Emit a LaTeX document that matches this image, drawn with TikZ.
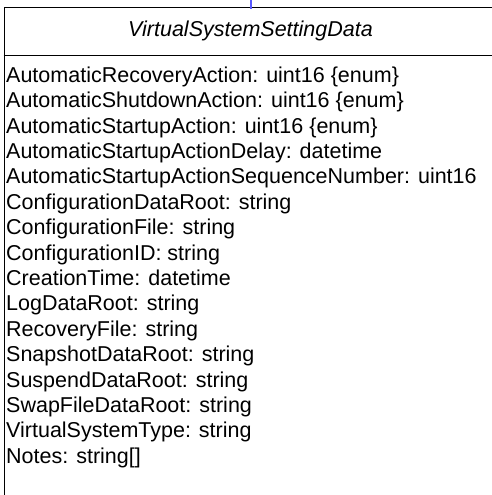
\documentclass[tikz,border=0pt]{standalone}
\usepackage{fontspec}
\setmainfont{Liberation Sans}
\usetikzlibrary{positioning}
\definecolor{linkblue}{RGB}{90,90,255}

\begin{document}
\begin{tikzpicture}[
        x=1pt, y=-1pt,
        every node/.style={font=\fontsize{21.5}{25.4}\selectfont},
        classbox/.style={draw, line width=1pt, rectangle, anchor=north west, minimum width=493pt, minimum height=520pt, inner sep=0pt},
        classname/.style={anchor=north, minimum height=48pt, inner sep=0pt, font=\itshape\fontsize{21.5}{25.4}\selectfont},
        attrlist/.style={align=left, anchor=north west, inner sep=0pt},
        divider/.style={draw, line width=1pt},
        assoc/.style={draw=linkblue, line width=2pt}
    ]
        \clip (0,0) rectangle (492,495);

        % Class
        \node[classbox] (vssd) at (3.5,7) {};
        \node[classname] (vssdname) at (vssd.north) {VirtualSystemSettingData};
        \draw[divider] (vssdname.south -| vssd.west) -- (vssdname.south -| vssd.east);

        % Attributes
        \node[attrlist] (vssdattrs) at (6,66.5) {%
            AutomaticRecoveryAction: uint16 \{enum\}\\
            AutomaticShutdownAction: uint16 \{enum\}\\
            AutomaticStartupAction: uint16 \{enum\}\\
            AutomaticStartupActionDelay: datetime\\
            AutomaticStartupActionSequenceNumber: uint16\\
            ConfigurationDataRoot: string\\
            ConfigurationFile: string\\
            ConfigurationID: string\\
            CreationTime: datetime\\
            LogDataRoot: string\\
            RecoveryFile: string\\
            SnapshotDataRoot: string\\
            SuspendDataRoot: string\\
            SwapFileDataRoot: string\\
            VirtualSystemType: string\\
            Notes: string[]};

        % Association (cut off above)
        \coordinate[above=9pt of vssd.north] (assocend);
        \draw[assoc] (assocend) -- ([yshift=-2pt]vssd.north);
    \end{tikzpicture}
\end{document}
